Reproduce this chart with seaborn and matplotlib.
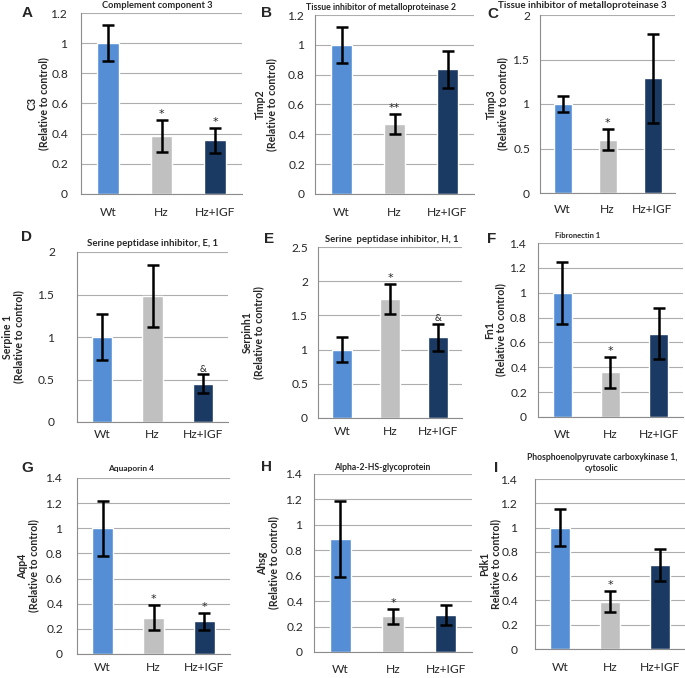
import matplotlib
matplotlib.use("Agg")
import matplotlib.pyplot as plt
from matplotlib.ticker import FixedLocator, FormatStrFormatter
import numpy as np
import pandas as pd
import seaborn as sns

sns.set_style("white")
plt.rcParams["font.family"] = ["Lato", "DejaVu Sans"]

groups = ["Wt", "Hz", "Hz+IGF"]
COLORS = ["#558ED5", "#C0C0C0", "#1B3A63"]

# A - C3
c3_mean = [1.0, 0.385, 0.355]
c3_err = [0.12, 0.105, 0.082]
c3_sig = ["", "*", "*"]
# B - Timp2
timp2_mean = [1.0, 0.47, 0.835]
timp2_err = [0.12, 0.068, 0.125]
timp2_sig = ["", "**", ""]
# C - Timp3
timp3_mean = [1.0, 0.6, 1.29]
timp3_err = [0.09, 0.12, 0.5]
timp3_sig = ["", "*", ""]
# D - Serpine 1
serpine1_mean = [1.0, 1.48, 0.45]
serpine1_err = [0.265, 0.365, 0.11]
serpine1_sig = ["", "", "&"]
# E - Serpinh1
serpinh1_mean = [1.0, 1.74, 1.18]
serpinh1_err = [0.18, 0.22, 0.2]
serpinh1_sig = ["", "*", "&"]
# F - Fn1
fn1_mean = [1.0, 0.36, 0.67]
fn1_err = [0.25, 0.125, 0.205]
fn1_sig = ["", "*", ""]
# G - Aqp4
aqp4_mean = [1.0, 0.29, 0.26]
aqp4_err = [0.22, 0.1, 0.07]
aqp4_sig = ["", "*", "*"]
# H - Ahsg
ahsg_mean = [0.89, 0.28, 0.29]
ahsg_err = [0.3, 0.06, 0.08]
ahsg_sig = ["", "*", ""]
# I - Pdk1
pdk1_mean = [1.0, 0.39, 0.69]
pdk1_err = [0.15, 0.087, 0.13]
pdk1_sig = ["", "*", ""]

W, H = 685, 678
PX = 100 / 72  # pixels per point
fig = plt.figure(figsize=(W / 100, H / 100), dpi=100)
renderer = fig.canvas.get_renderer()


def box(l, t, r, b):
    return [l / W, 1 - b / H, (r - l) / W, (b - t) / H]


def fit_size(s, target, **kw):
    # font size (pt) that makes the string s about `target` pixels wide
    t = fig.text(0, 0, s, fontsize=10, **kw)
    w = t.get_window_extent(renderer).width
    t.remove()
    return 10 * target / w


ylabel_size = fit_size("(Relative to control)", 93, fontweight="bold")
tick_size = fit_size("Hz+IGF", 40)

# letter, title, ylabel, mean, err, sig, ymax, ystep, axes box (px), letter pos, title pos,
# ylabel x, title width, x label offset, y label gap
panels = [
    ("A", "Complement component 3", "C3\n(Relative to control)",
     c3_mean, c3_err, c3_sig, 1.2, 0.2, (81, 13, 242, 194), (27, 13), (157, 5), 38, 110, 19, 13),
    ("B", "Tissue inhibitor of metalloproteinase 2", "Timp2\n(Relative to control)",
     timp2_mean, timp2_err, timp2_sig, 1.2, 0.2, (315, 15, 474, 194), (267, 13), (381, 7), 266, 150, 19, 10),
    ("C", "Tissue inhibitor of metalloproteinase 3", "Timp3\n(Relative to control)",
     timp3_mean, timp3_err, timp3_sig, 2.0, 0.5, (540, 15, 675, 193), (493, 14), (582, 6), 497, 168, 17, 10),
    ("D", "Serine peptidase inhibitor, E, 1", "Serpine 1\n(Relative to control)",
     serpine1_mean, serpine1_err, serpine1_sig, 2.0, 0.5, (77, 252, 228, 422), (27, 237), (153, 244), 13, 130, 13, 22),
    ("E", "Serine  peptidase inhibitor, H, 1", "Serpinh1\n(Relative to control)",
     serpinh1_mean, serpinh1_err, serpinh1_sig, 2.5, 0.5, (318, 247, 462, 418), (269, 239), (392, 240), 253, 133, 14, 10),
    ("F", "Fibronectin 1", "Fn1\n(Relative to control)",
     fn1_mean, fn1_err, fn1_sig, 1.4, 0.2, (538, 243, 683, 417), (492, 239), (578, 235), 495, 45, 18, 11),
    ("G", "Aquaporin 4", "Aqp4\n(Relative to control)",
     aqp4_mean, aqp4_err, aqp4_sig, 1.4, 0.2, (77, 478, 230, 654), (27, 468), (131, 468), 28, 46, 14, 14),
    ("H", "Alpha-2-HS-glycoprotein", "Ahsg\n(Relative to control)",
     ahsg_mean, ahsg_err, ahsg_sig, 1.4, 0.2, (314, 474, 472, 652), (267, 467), (382, 467), 268, 97, 18, 11),
    ("I", "Phosphoenolpyruvate carboxykinase 1,\ncytosolic", "Pdk1\nRelative to control)",
     pdk1_mean, pdk1_err, pdk1_sig, 1.4, 0.2, (535, 479, 685, 649), (496, 468), (602, 463), 490, 151, 19, 17),
]

for (letter, title, ylabel, mean, err, sig, ymax, ystep, bx, lpos, tpos,
     ylx, title_w, xoff, ygap) in panels:
    ax = fig.add_axes(box(*bx))
    df = pd.DataFrame({"group": groups, "value": mean})
    sns.barplot(data=df, x="group", y="value", hue="group", palette=COLORS,
                width=0.4, saturation=1, errorbar=None, legend=False, ax=ax)
    ax.errorbar(range(3), mean, yerr=err, fmt="none", ecolor="black",
                elinewidth=1.8, capsize=4, capthick=1.8, zorder=5)
    for i, s in enumerate(sig):
        if s:
            star = s != "&"
            ax.annotate(s, (i, mean[i] + err[i]), xytext=(0, 0.5), textcoords="offset points",
                        ha="center", va="bottom", fontsize=8 if star else 7,
                        family="DejaVu Sans" if star else "Lato", color="#262626")
    ax.set_xlim(-0.5, 2.5)
    ax.set_ylim(0, ymax)
    ax.set_yticks(np.arange(0, ymax + 1e-9, ystep))
    ax.yaxis.set_major_formatter(FormatStrFormatter("%g"))
    ax.yaxis.grid(True, color="#ADADAD", linewidth=0.8)
    ax.set_axisbelow(True)
    for sp in ["top", "right"]:
        ax.spines[sp].set_visible(False)
    for sp in ["left", "bottom"]:
        ax.spines[sp].set_color("#8C8C8C")
        ax.spines[sp].set_linewidth(0.8)
    ax.xaxis.set_minor_locator(FixedLocator([-0.5, 0.5, 1.5, 2.5]))
    ax.tick_params(axis="x", which="minor", length=4, color="#8C8C8C", width=0.8, direction="out")
    ax.tick_params(axis="x", which="major", length=0, pad=(xoff - tick_size * PX * 0.5) / PX,
                   labelsize=tick_size, colors="#262626")
    ax.tick_params(axis="y", length=0, pad=ygap / PX, labelsize=tick_size, colors="#262626")
    ax.set_xlabel("")
    ax.set_ylabel(ylabel, fontsize=ylabel_size, fontweight="bold", linespacing=1.05)
    ax.yaxis.label.set_verticalalignment("center")
    l, t, r, b = bx
    ax.yaxis.set_label_coords((ylx - l) / (r - l), 0.5)
    fig.text(lpos[0] / W, 1 - lpos[1] / H, letter, ha="center", va="center",
             fontsize=11, fontweight="bold", family="Liberation Sans")
    first_line = title.split("\n")[0]
    fig.text(tpos[0] / W, 1 - tpos[1] / H, title, ha="center", va="center",
             fontsize=fit_size(first_line, title_w, fontweight="bold"),
             fontweight="bold", linespacing=1.3)

fig.savefig("out.png", dpi=100)
